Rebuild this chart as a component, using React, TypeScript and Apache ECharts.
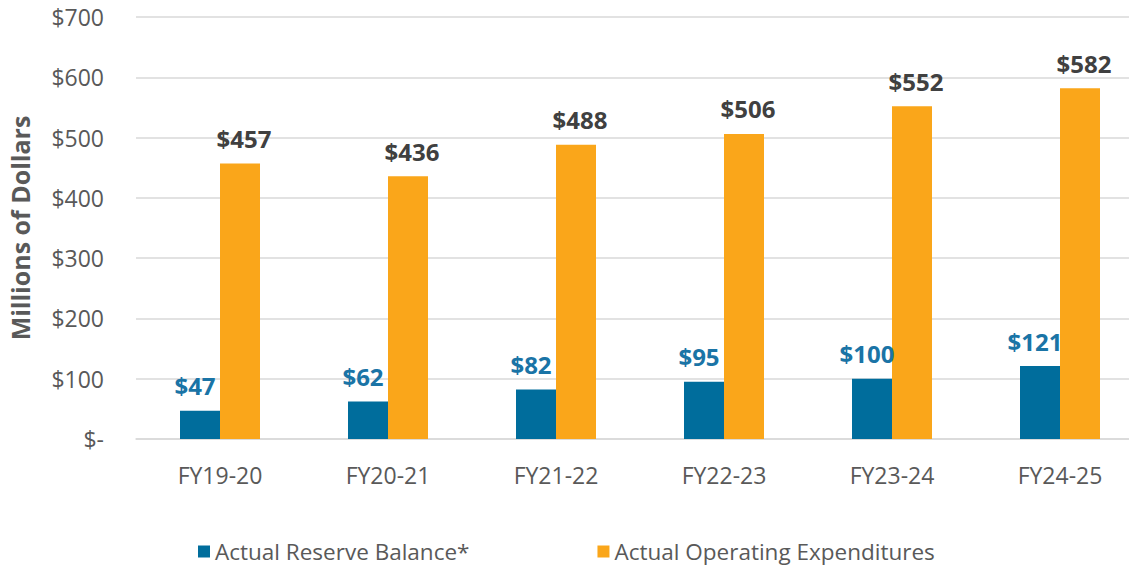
import React, { useEffect, useRef } from "react";
import * as echarts from "echarts";

const categories = ["FY19-20", "FY20-21", "FY21-22", "FY22-23", "FY23-24", "FY24-25"];
const reserveBalance = [47, 62, 82, 95, 100, 121];
const operatingExpenditures = [457, 436, 488, 506, 552, 582];
const seriesNames = ["Actual Reserve Balance*", "Actual Operating Expenditures"];

const FONT = "'Open Sans', 'Noto Sans', sans-serif";

export default function App() {
  const ref = useRef<HTMLDivElement>(null);
  useEffect(() => {
    if (!ref.current) return;
    const chart = echarts.init(ref.current, undefined, { renderer: "svg" });
    chart.setOption({
      animation: false,
      textStyle: { fontFamily: FONT },
      grid: {
        left: 136,
        top: 17,
        width: 1008,
        height: 422,
        containLabel: false,
        outerBoundsMode: "none",
      },
      legend: {
        bottom: 5,
        left: 193,
        itemWidth: 12,
        itemHeight: 12,
        itemGap: 128,
        itemTextGap: 7,
        icon: "rect",
        textStyle: { fontSize: 22.5, color: "#595959", fontFamily: FONT },
        data: seriesNames,
      },
      xAxis: {
        type: "category",
        data: categories,
        axisTick: { show: false },
        axisLine: { lineStyle: { color: "#d9d9d9", width: 1.5 } },
        axisLabel: { fontSize: 23, color: "#595959", margin: 24, fontFamily: FONT },
      },
      yAxis: {
        type: "value",
        min: 0,
        max: 700,
        interval: 100,
        name: "Millions of Dollars",
        nameLocation: "middle",
        nameGap: 104,
        nameTextStyle: { fontSize: 25, fontWeight: "bold", color: "#595959", fontFamily: FONT },
        axisLine: { show: false },
        axisTick: { show: false },
        splitLine: { lineStyle: { color: "#d9d9d9", width: 1.5 } },
        axisLabel: {
          fontSize: 23,
          color: "#595959",
          margin: 32,
          fontFamily: FONT,
          formatter: (v: number) => (v === 0 ? "$-" : "$" + v),
        },
      },
      series: [
        {
          name: seriesNames[0],
          type: "bar",
          data: reserveBalance,
          barWidth: 40,
          barGap: "0%",
          itemStyle: { color: "#006D9C" },
          label: {
            show: true,
            position: "top",
            distance: 13,
            offset: [-5, 0],
            formatter: (p: any) => "$" + p.value,
            fontSize: 24,
            fontWeight: "bold",
            color: "#1A74A6",
            fontFamily: FONT,
          },
        },
        {
          name: seriesNames[1],
          type: "bar",
          data: operatingExpenditures,
          barWidth: 40,
          barGap: "0%",
          itemStyle: { color: "#FAA61A" },
          label: {
            show: true,
            position: "top",
            distance: 13,
            offset: [4, 0],
            formatter: (p: any) => "$" + p.value,
            fontSize: 24,
            fontWeight: "bold",
            color: "#404040",
            fontFamily: FONT,
          },
        },
      ],
    });
    return () => chart.dispose();
  }, []);
  return <div ref={ref} style={{ width: 1137, height: 573, margin: -8 }} />;
}
